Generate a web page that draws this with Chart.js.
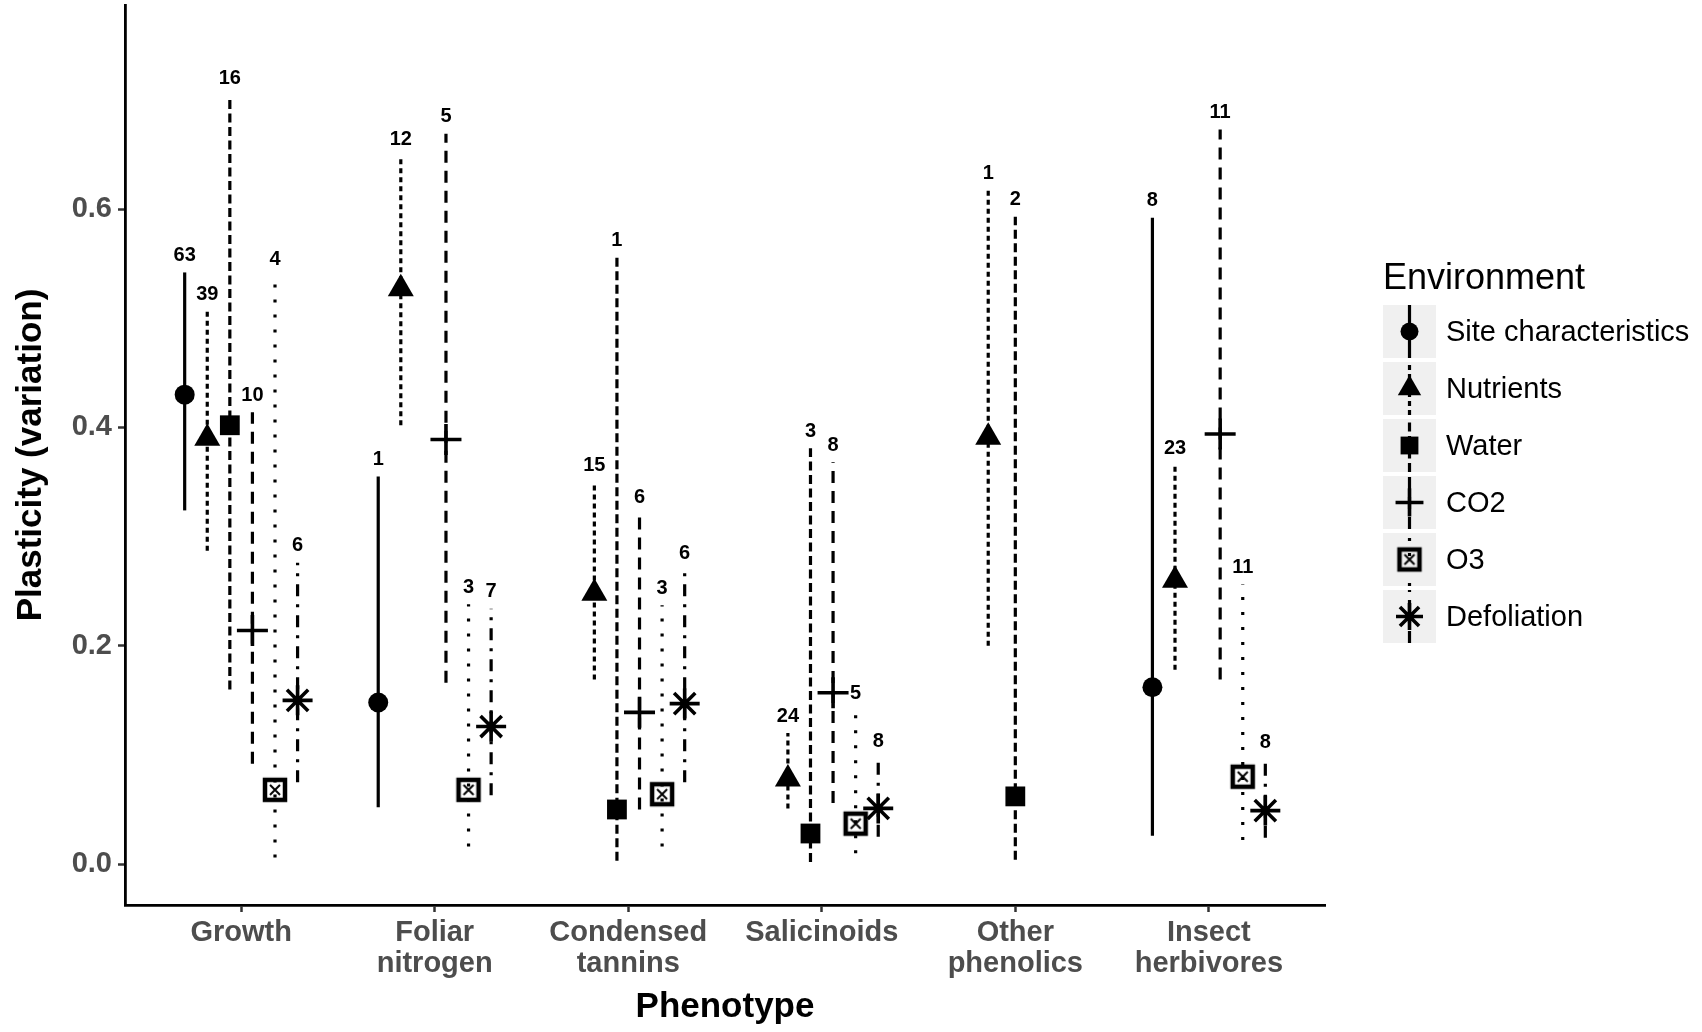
<!DOCTYPE html>
<html>
<head>
<meta charset="utf-8">
<script src="https://cdn.jsdelivr.net/npm/chart.js@4.4.1/dist/chart.umd.min.js"></script>
<style>
  html, body { margin: 0; padding: 0; background: #fff; }
  canvas { display: block; }
</style>
</head>
<body>
<canvas id="grafico" width="1702" height="1032"></canvas>
<script>
  // Categorias (rótulos em várias linhas) e ambientes
  const phenotypes = [["Growth"], ["Foliar", "nitrogen"], ["Condensed", "tannins"], ["Salicinoids"], ["Other", "phenolics"], ["Insect", "herbivores"]];
  const environments = ["Site characteristics", "Nutrients", "Water", "CO2", "O3", "Defoliation"];
  const yTicks = [0, 0.2, 0.4, 0.6];

  // Média, limites e n por fenótipo (null = sem dados)
  const siteMean = [0.430, 0.148, null, null, null, 0.162];
  const siteLow  = [0.324, 0.052, null, null, null, 0.026];
  const siteHigh = [0.542, 0.355, null, null, null, 0.592];
  const siteN    = [63, 1, null, null, null, 8];

  const nutMean = [0.390, 0.527, 0.248, 0.078, 0.391, 0.260];
  const nutLow  = [0.287, 0.402, 0.169, 0.051, 0.200, 0.178];
  const nutHigh = [0.506, 0.648, 0.350, 0.120, 0.617, 0.365];
  const nutN    = [39, 12, 15, 24, 1, 23];

  const waterMean = [0.402, null, 0.050, 0.028, 0.062, null];
  const waterLow  = [0.160, null, 0.003, 0.002, 0.004, null];
  const waterHigh = [0.704, null, 0.556, 0.381, 0.593, null];
  const waterN    = [16, null, 1, 3, 2, null];

  const co2Mean = [0.214, 0.389, 0.139, 0.157, null, 0.394];
  const co2Low  = [0.092, 0.166, 0.050, 0.056, null, 0.169];
  const co2High = [0.414, 0.669, 0.320, 0.368, null, 0.673];
  const co2N    = [10, 5, 6, 8, null, 11];

  const o3Mean = [0.068, 0.068, 0.064, 0.037, null, 0.080];
  const o3Low  = [0.006, 0.016, 0.016, 0.010, null, 0.022];
  const o3High = [0.538, 0.238, 0.237, 0.141, null, 0.256];
  const o3N    = [4, 3, 3, 5, null, 11];

  const defMean = [0.150, 0.126, 0.147, 0.051, null, 0.049];
  const defLow  = [0.075, 0.063, 0.075, 0.025, null, 0.024];
  const defHigh = [0.276, 0.234, 0.269, 0.097, null, 0.096];
  const defN    = [6, 7, 6, 8, null, 8];

  const series = [
    { mean: siteMean, low: siteLow, high: siteHigh, n: siteN },
    { mean: nutMean, low: nutLow, high: nutHigh, n: nutN },
    { mean: waterMean, low: waterLow, high: waterHigh, n: waterN },
    { mean: co2Mean, low: co2Low, high: co2High, n: co2N },
    { mean: o3Mean, low: o3Low, high: o3High, n: o3N },
    { mean: defMean, low: defLow, high: defHigh, n: defN }
  ];

  // Marcador do O3: quadrado com X
  const o3Img = document.createElement("canvas");
  o3Img.width = 28; o3Img.height = 28;
  const c = o3Img.getContext("2d");
  c.strokeStyle = "#000";
  c.lineWidth = 4.5;
  c.strokeRect(4, 4, 20, 20);
  c.lineWidth = 2;
  c.beginPath();
  c.moveTo(9, 9); c.lineTo(19, 19);
  c.moveTo(19, 9); c.lineTo(9, 19);
  c.stroke();

  const estilos = [
    { pointStyle: "circle", radius: 10, border: 0, dash: [] },
    { pointStyle: "triangle", radius: 15, border: 0, dash: [5, 4] },
    { pointStyle: "rect", radius: 14, border: 0, dash: [9, 4.5] },
    { pointStyle: "cross", radius: 15.5, border: 3.6, dash: [12, 8] },
    { pointStyle: o3Img, radius: 13, border: 0, dash: [3, 12] },
    { pointStyle: "star", radius: 15, border: 3.6, dash: [12, 8, 3, 8] }
  ];

  const FONT = "'Liberation Sans', Arial, Helvetica, sans-serif";
  const LW = 3.2;

  // position_dodge de largura 0.7 com 6 grupos
  function dodge(cat, env) {
    if (cat === 4) return env === 1 ? -0.14 : 0; // Other phenolics: só dois grupos
    return (env - 2.5) * 0.7 / 6;
  }

  const datasets = [];
  series.forEach((s, e) => {
    const st = estilos[e];
    // barras (linerange)
    s.mean.forEach((m, i) => {
      if (m === null) return;
      const x = i + dodge(i, e);
      datasets.push({
        data: [{ x: x, y: s.low[i] }, { x: x, y: s.high[i] }],
        showLine: true,
        borderColor: "#000",
        borderWidth: LW,
        borderDash: st.dash,
        borderCapStyle: "butt",
        pointRadius: 0,
        order: 1
      });
    });
    // pontos
    datasets.push({
      label: environments[e],
      data: s.mean.map((m, i) => m === null ? null : { x: i + dodge(i, e), y: m }).filter(p => p),
      pointStyle: st.pointStyle,
      pointRadius: st.radius,
      pointBorderWidth: st.border,
      pointBackgroundColor: "#000",
      pointBorderColor: "#000",
      order: 0
    });
  });

  const rotulos = {
    id: "rotulos",
    afterDatasetsDraw(chart) {
      const ctx = chart.ctx, xs = chart.scales.x, ys = chart.scales.y;
      ctx.save();
      ctx.fillStyle = "#000";
      ctx.font = "bold 20px " + FONT;
      ctx.textAlign = "center";
      ctx.textBaseline = "middle";
      series.forEach((s, e) => {
        s.n.forEach((n, i) => {
          if (n === null) return;
          const px = xs.getPixelForValue(i + dodge(i, e));
          const py = ys.getPixelForValue(s.high[i]) - 17;
          ctx.fillText(String(n), px, py);
        });
      });
      ctx.restore();
    },
    afterDraw(chart) {
      // legenda no estilo ggplot
      const ctx = chart.ctx;
      const x0 = 1383, y0 = 305, box = 53, passo = 57;
      ctx.save();
      ctx.fillStyle = "#000";
      ctx.font = "36px " + FONT;
      ctx.textAlign = "left";
      ctx.textBaseline = "alphabetic";
      ctx.fillText("Environment", x0, 289);
      environments.forEach((nome, e) => {
        const st = estilos[e];
        const top = y0 + e * passo;
        const cx = x0 + box / 2, cy = top + box / 2;
        ctx.fillStyle = "#f0f0f0";
        ctx.fillRect(x0, top, box, box);
        ctx.strokeStyle = "#000";
        ctx.lineWidth = LW;
        ctx.setLineDash(st.dash);
        ctx.beginPath();
        ctx.moveTo(cx, top + box);
        ctx.lineTo(cx, top);
        ctx.stroke();
        ctx.setLineDash([]);
        ctx.fillStyle = "#000";
        ctx.lineWidth = st.border;
        Chart.helpers.drawPoint(ctx, { pointStyle: st.pointStyle, radius: st.radius * 0.9, borderWidth: st.border, rotation: 0 }, cx, cy);
        ctx.fillStyle = "#000";
        ctx.font = "29px " + FONT;
        ctx.textBaseline = "middle";
        ctx.fillText(nome, 1446, cy + 1);
      });
      ctx.restore();
    }
  };

  new Chart(document.getElementById("grafico"), {
    type: "scatter",
    data: { datasets: datasets },
    options: {
      responsive: false,
      animation: false,
      devicePixelRatio: 1,
      layout: { autoPadding: false, padding: { top: 5, right: 377, left: 0, bottom: 0 } },
      plugins: { legend: { display: false }, tooltip: { enabled: false } },
      scales: {
        x: {
          type: "linear",
          min: -0.6,
          max: 5.6,
          afterFit(s) { s.height = 127; s.paddingLeft = 0; s.paddingRight = 0; },
          afterBuildTicks(s) { s.ticks = phenotypes.map((_, i) => ({ value: i })); },
          grid: { drawOnChartArea: false, drawTicks: true, tickLength: 7, tickColor: "#333", tickWidth: 2.5 },
          border: { display: true, color: "#000", width: 2.8 },
          ticks: {
            callback: (v) => phenotypes[v],
            color: "#4d4d4d",
            font: { family: FONT, size: 29, weight: "bold", lineHeight: 1.08 },
            padding: 5,
            maxRotation: 0,
            autoSkip: false
          },
          title: {
            display: true,
            text: "Phenotype",
            color: "#000",
            font: { family: FONT, size: 35, weight: "bold" },
            padding: { top: 0, bottom: 4 }
          }
        },
        y: {
          min: -0.0375,
          max: 0.787,
          afterFit(s) { s.width = 125; s.paddingTop = 0; s.paddingBottom = 0; },
          afterBuildTicks(s) { s.ticks = yTicks.map(v => ({ value: v })); },
          grid: { drawOnChartArea: false, drawTicks: true, tickLength: 7, tickColor: "#333", tickWidth: 2.5 },
          border: { display: true, color: "#000", width: 2.8 },
          ticks: {
            callback: (v) => v.toFixed(1),
            color: "#4d4d4d",
            font: { family: FONT, size: 29, weight: "bold" },
            padding: 6
          },
          title: {
            display: true,
            text: "Plasticity (variation)",
            color: "#000",
            font: { family: FONT, size: 35, weight: "bold" },
            padding: { top: 10, bottom: 0 }
          }
        }
      }
    },
    plugins: [rotulos]
  });
</script>
</body>
</html>
